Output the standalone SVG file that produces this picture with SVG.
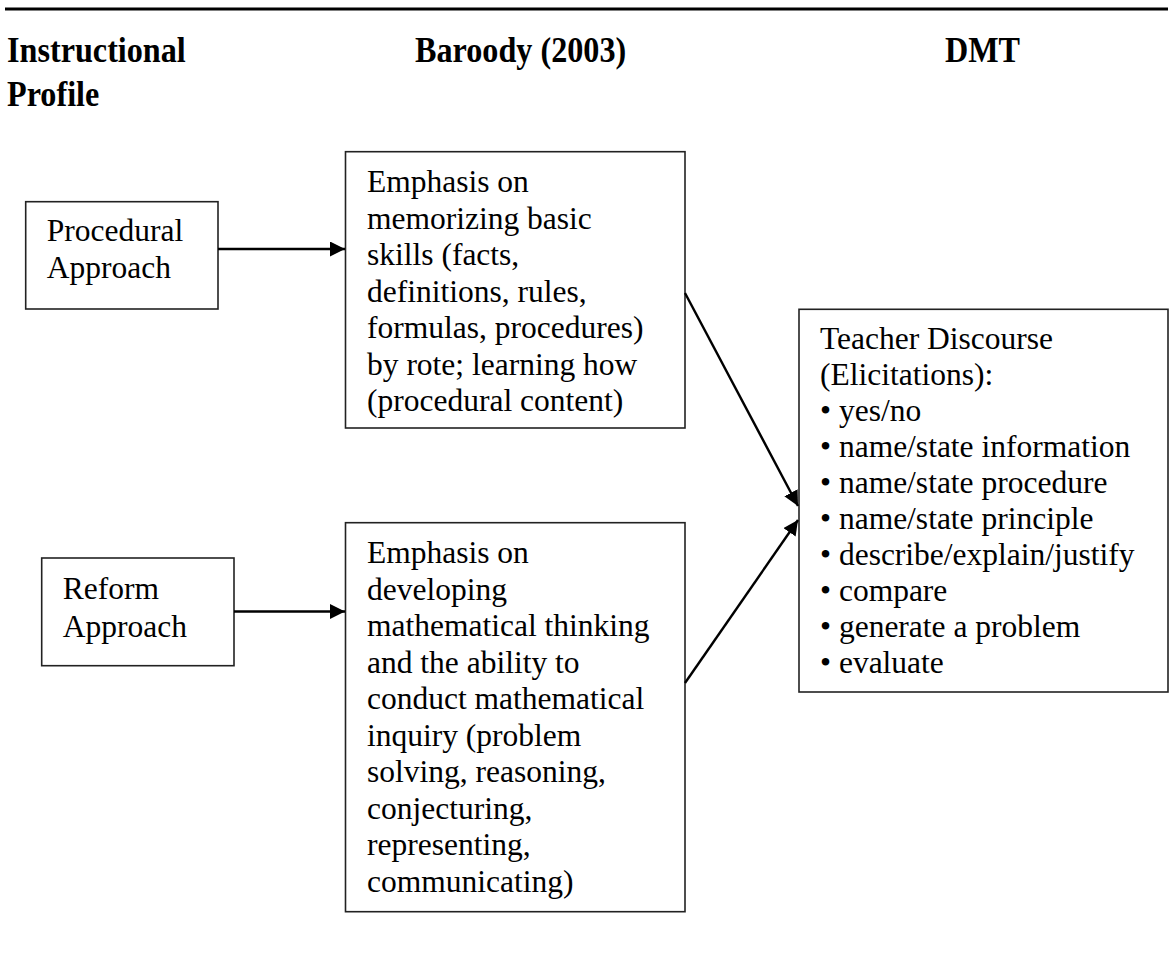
<svg xmlns="http://www.w3.org/2000/svg" width="1173" height="975" viewBox="0 0 1173 975">
<style>
.box{fill:#fff;stroke:#222;stroke-width:1.6}
.t{font-family:"Liberation Serif","Times New Roman",serif;font-size:31.5px;fill:#000}
.h{font-family:"Liberation Serif","Times New Roman",serif;font-size:35px;font-weight:bold;fill:#000}
.c{stroke:#000;stroke-width:2.4;fill:none}
</style>
<defs>
<marker id="ah" viewBox="0 0 15 15" refX="15" refY="7.5" markerWidth="15" markerHeight="15" markerUnits="userSpaceOnUse" orient="auto">
<path d="M0,0 L15,7.5 L0,15 z" fill="#000"/>
</marker>
</defs>
<rect width="1173" height="975" fill="#fff"/>
<line x1="5" y1="9" x2="1168" y2="9" stroke="#000" stroke-width="3"/>
<g id="headers">
<text class="h" transform="translate(7,62) scale(0.92,1)">Instructional</text>
<text class="h" transform="translate(7,106) scale(0.92,1)">Profile</text>
<text class="h" transform="translate(415,62) scale(0.92,1)">Baroody (2003)</text>
<text class="h" transform="translate(945,62) scale(0.92,1)">DMT</text>
</g>
<g id="procedural">
<rect class="box" x="25.7" y="201.7" width="192.3" height="107.3"/>
<text class="t"><tspan x="46.7" y="241">Procedural</tspan><tspan x="46.7" y="278">Approach</tspan></text>
</g>
<g id="reform">
<rect class="box" x="41.7" y="558" width="192.3" height="107.7"/>
<text class="t"><tspan x="62.7" y="599">Reform</tspan><tspan x="62.7" y="636.7">Approach</tspan></text>
</g>
<g id="baroody-procedural">
<rect class="box" x="345.5" y="151.7" width="339.5" height="276.3"/>
<text class="t">
<tspan x="367" y="192">Emphasis on</tspan>
<tspan x="367" dy="36.5">memorizing basic</tspan>
<tspan x="367" dy="36.5">skills (facts,</tspan>
<tspan x="367" dy="36.5">definitions, rules,</tspan>
<tspan x="367" dy="36.5">formulas, procedures)</tspan>
<tspan x="367" dy="36.5">by rote; learning how</tspan>
<tspan x="367" dy="36.5">(procedural content)</tspan>
</text>
</g>
<g id="baroody-reform">
<rect class="box" x="345.5" y="522.7" width="339.5" height="389"/>
<text class="t">
<tspan x="367" y="563">Emphasis on</tspan>
<tspan x="367" dy="36.5">developing</tspan>
<tspan x="367" dy="36.5">mathematical thinking</tspan>
<tspan x="367" dy="36.5">and the ability to</tspan>
<tspan x="367" dy="36.5">conduct mathematical</tspan>
<tspan x="367" dy="36.5">inquiry (problem</tspan>
<tspan x="367" dy="36.5">solving, reasoning,</tspan>
<tspan x="367" dy="36.5">conjecturing,</tspan>
<tspan x="367" dy="36.5">representing,</tspan>
<tspan x="367" dy="36.5">communicating)</tspan>
</text>
</g>
<g id="dmt">
<rect class="box" x="799" y="309.3" width="369" height="382.7"/>
<text class="t">
<tspan x="820" y="349">Teacher Discourse</tspan>
<tspan x="820" dy="36">(Elicitations):</tspan>
<tspan x="820" dy="36">• yes/no</tspan>
<tspan x="820" dy="36">• name/state information</tspan>
<tspan x="820" dy="36">• name/state procedure</tspan>
<tspan x="820" dy="36">• name/state principle</tspan>
<tspan x="820" dy="36">• describe/explain/justify</tspan>
<tspan x="820" dy="36">• compare</tspan>
<tspan x="820" dy="36">• generate a problem</tspan>
<tspan x="820" dy="36">• evaluate</tspan>
</text>
</g>
<g id="connectors">
<line class="c" x1="218" y1="249" x2="345" y2="249" marker-end="url(#ah)"/>
<line class="c" x1="234" y1="611.5" x2="345" y2="611.5" marker-end="url(#ah)"/>
<line class="c" x1="685" y1="293" x2="798" y2="506" marker-end="url(#ah)"/>
<line class="c" x1="685" y1="683" x2="798" y2="520" marker-end="url(#ah)"/>
</g>
</svg>
